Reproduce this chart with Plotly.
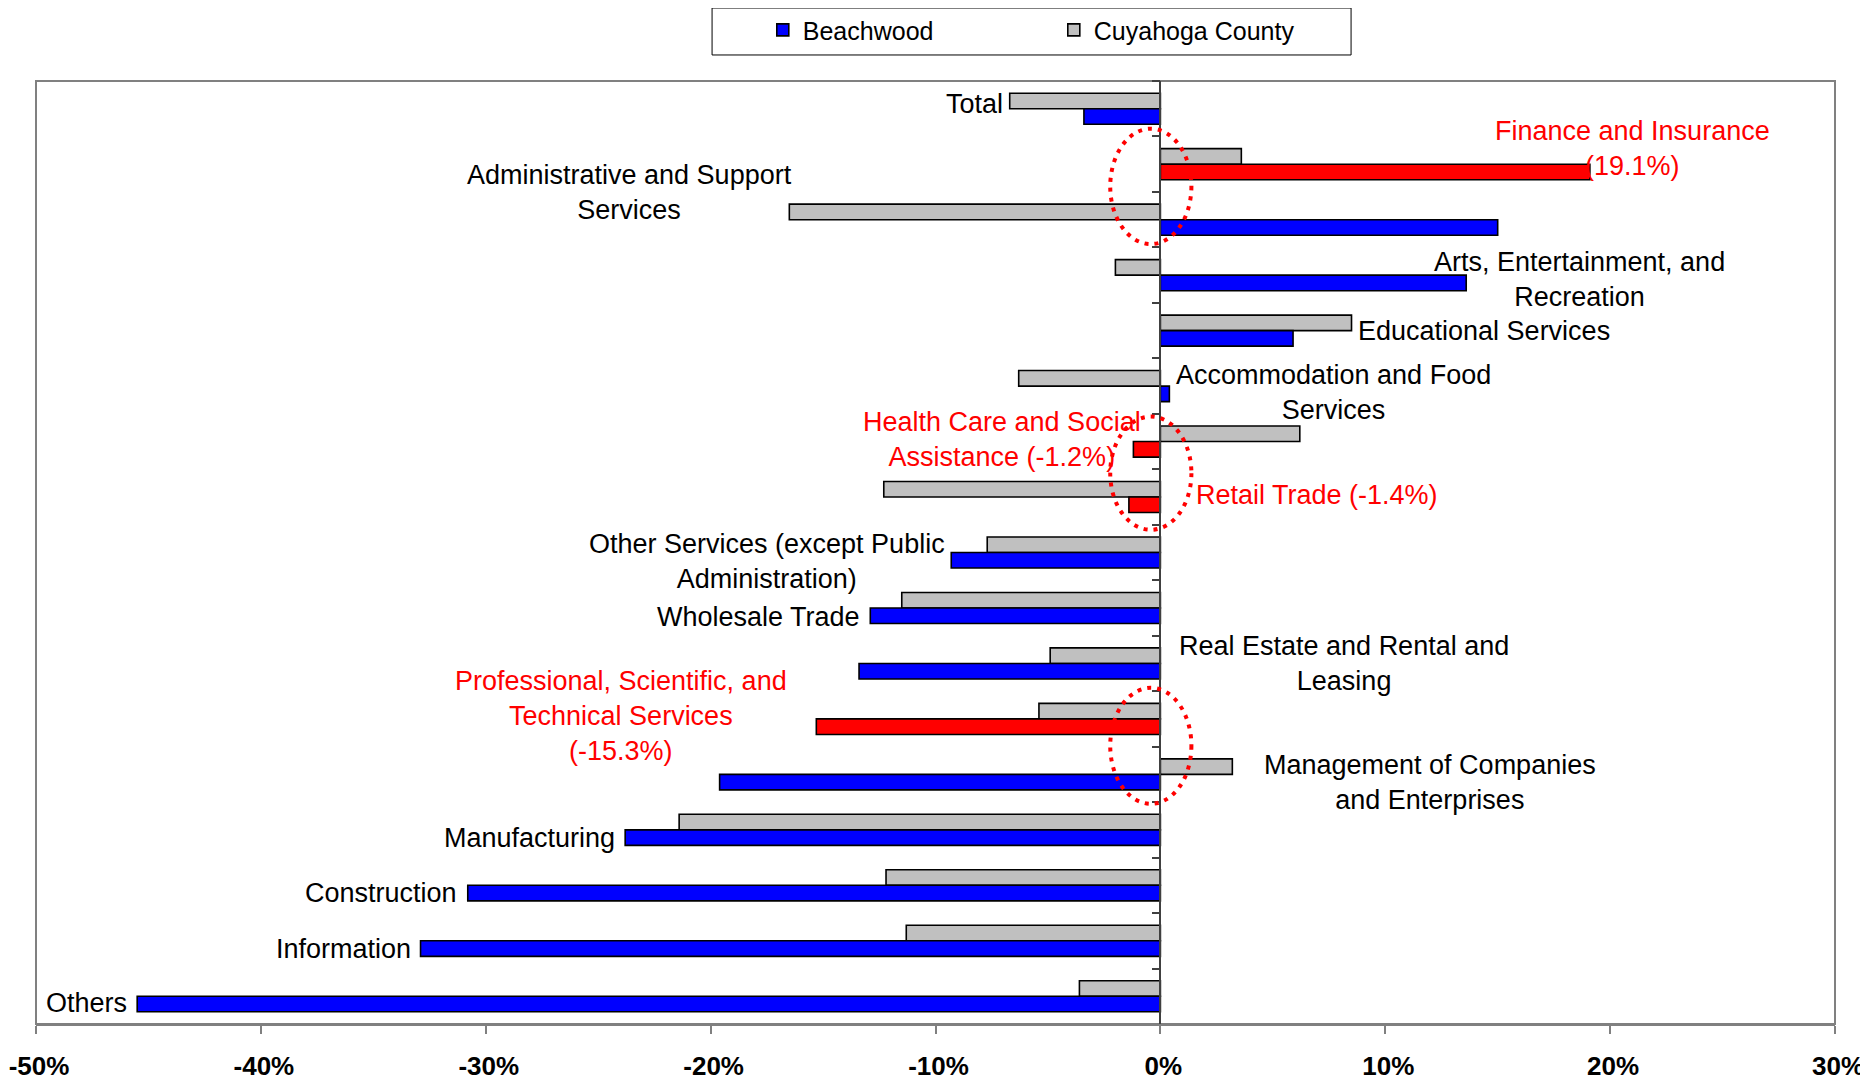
import plotly.graph_objects as go

# ---------------- data ----------------
categories = [
    "Total", "Finance and Insurance", "Administrative and Support Services",
    "Arts, Entertainment, and Recreation", "Educational Services",
    "Accommodation and Food Services", "Health Care and Social Assistance",
    "Retail Trade", "Other Services (except Public Administration)",
    "Wholesale Trade", "Real Estate and Rental and Leasing",
    "Professional, Scientific, and Technical Services",
    "Management of Companies and Enterprises", "Manufacturing",
    "Construction", "Information", "Others",
]
beachwood = [-3.4, 19.1, 15.0, 13.6, 5.9, 0.4, -1.2, -1.4, -9.3, -12.9,
             -13.4, -15.3, -19.6, -23.8, -30.8, -32.9, -45.5]
cuyahoga = [-6.7, 3.6, -16.5, -2.0, 8.5, -6.3, 6.2, -12.3, -7.7, -11.5,
            -4.9, -5.4, 3.2, -21.4, -12.2, -11.3, -3.6]
highlighted = ["Finance and Insurance", "Health Care and Social Assistance",
               "Retail Trade", "Professional, Scientific, and Technical Services"]
label_lines = [
    ["Total"], ["Finance and Insurance"], ["Administrative and Support", "Services"],
    ["Arts, Entertainment, and", "Recreation"], ["Educational Services"],
    ["Accommodation and Food", "Services"], ["Health Care and Social", "Assistance"],
    ["Retail Trade"], ["Other Services (except Public", "Administration)"],
    ["Wholesale Trade"], ["Real Estate and Rental and", "Leasing"],
    ["Professional, Scientific, and", "Technical Services"],
    ["Management of Companies", "and Enterprises"], ["Manufacturing"],
    ["Construction"], ["Information"], ["Others"],
]
tick_vals = [-50, -40, -30, -20, -10, 0, 10, 20, 30]
tick_text = ["-50%", "-40%", "-30%", "-20%", "-10%", "0%", "10%", "20%", "30%"]

# ---------------- label placement (layout only) ----------------
label_x = [-6.9, 21.0, -23.6, 18.65, 8.7, 7.7, -7.05, 1.5, -17.5, -13.25,
           8.15, -24.0, 12.0, -24.15, -31.2, -33.25, -45.85]
label_dy = [-0.09, -0.28, -0.49, 0.08, 0.01, 0.11, -0.04, -0.03, 0.16, 0.16,
            0.0, -0.06, 0.15, 0.15, 0.14, 0.14, 0.13]
label_anchor = ["right", "center", "center", "center", "left", "center", "center",
                "left", "center", "right", "center", "center", "center",
                "right", "right", "right", "right"]

FONT = "Arial, 'Liberation Sans', sans-serif"
BLUE, GRAY, RED = "#0000FF", "#C0C0C0", "#FF0000"

bw_colors = [RED if c in highlighted else BLUE for c in categories]

fig = go.Figure()
fig.add_trace(go.Bar(
    y=categories, x=cuyahoga, orientation="h", name="Cuyahoga County",
    marker=dict(color=GRAY, line=dict(color="black", width=1.6)), legendrank=2,
))
fig.add_trace(go.Bar(
    y=categories, x=beachwood, orientation="h", name="Beachwood",
    marker=dict(color=bw_colors, line=dict(color="black", width=1.6)), legendrank=1,
))

annotations = []
for i, cat in enumerate(categories):
    lines = list(label_lines[i])
    red = cat in highlighted
    if red:
        pct = f"({beachwood[i]:.1f}%)"
        if cat in ("Health Care and Social Assistance", "Retail Trade"):
            lines[-1] = lines[-1] + " " + pct
        else:
            lines.append(pct)
    annotations.append(dict(
        x=label_x[i], y=i + label_dy[i], xref="x", yref="y",
        text="<br>".join(lines), showarrow=False, xanchor=label_anchor[i],
        yanchor="middle", align="center",
        font=dict(family=FONT, size=27, color=RED if red else "black"),
    ))

shapes = [
    # plot frame
    dict(type="rect", xref="paper", yref="paper", x0=0, x1=1, y0=0, y1=1,
         line=dict(color="#808080", width=2), layer="below"),
    # legend frame
    dict(type="rect", xref="paper", yref="paper", x0=0.3758, x1=0.731,
         y0=1.0276, y1=1.0774, line=dict(color="black", width=1)),
]
for (y0, y1) in [(0.36, 2.44), (5.55, 7.59), (10.44, 12.53)]:
    shapes.append(dict(type="circle", xref="x", yref="y", x0=-2.23, x1=1.38,
                       y0=y0, y1=y1,
                       line=dict(color=RED, width=4, dash="4px,6px")))

fig.update_layout(
    width=1860, height=1072,
    margin=dict(l=28, r=33, t=73, b=56, autoexpand=False),
    paper_bgcolor="white", plot_bgcolor="white",
    barmode="group", bargap=0.44, bargroupgap=0,
    font=dict(family=FONT, size=26, color="black"),
    showlegend=True,
    legend=dict(orientation="h", x=0.404, xanchor="left", y=1.054, yanchor="middle",
                bgcolor="rgba(0,0,0,0)", borderwidth=0,
                font=dict(family=FONT, size=25, color="black"),
                entrywidth=246, entrywidthmode="pixels", traceorder="normal"),
    annotations=annotations,
    shapes=shapes,
    xaxis=dict(range=[-50, 30], tickvals=tick_vals, ticktext=tick_text,
               showgrid=False, zeroline=False, showline=True, linecolor="#808080",
               linewidth=1.5, ticks="outside", ticklen=8, tickcolor="#808080",
               tickwidth=1.5, tickfont=dict(family=FONT, size=26, color="black",
                                            weight="bold"),
               ticklabelstandoff=10, ticklabelshift=3, ticklabeloverflow="allow",
               automargin=False, fixedrange=True),
    yaxis=dict(type="category", categoryorder="array", categoryarray=categories,
               autorange="reversed", anchor="free", position=0.625,
               showticklabels=False, showgrid=False, zeroline=False,
               showline=True, linecolor="#404040", linewidth=1.5,
               ticks="outside", ticklen=8, tickcolor="#404040", tickwidth=1.5,
               tickson="boundaries", automargin=False, fixedrange=True),
)

fig.write_html("out.html")
